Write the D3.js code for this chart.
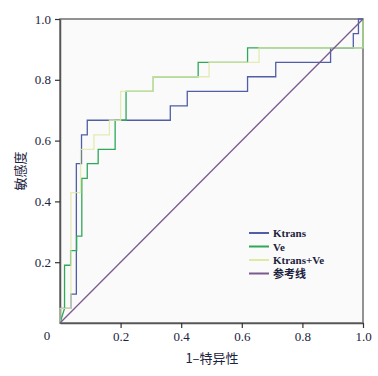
<!DOCTYPE html>
<html>
<head>
<meta charset="utf-8">
<script src="https://cdn.jsdelivr.net/npm/d3@7"></script>
<style>
  body { margin: 0; background: #fff; }
  svg { display: block; }
</style>
</head>
<body>
<svg id="roc" width="378" height="376"></svg>
<script>
// ROC curves, [1 - specificity, sensitivity]
var ktrans = [[0,0],[0,0.048],[0.036,0.048],[0.036,0.095],[0.054,0.095],[0.054,0.524],[0.071,0.524],[0.071,0.619],[0.09,0.619],[0.09,0.667],[0.364,0.667],[0.364,0.714],[0.42,0.714],[0.42,0.762],[0.619,0.762],[0.619,0.81],[0.712,0.81],[0.712,0.857],[0.893,0.857],[0.893,0.905],[0.968,0.905],[0.968,0.952],[0.985,0.952],[0.985,1],[1,1]];
var ve = [[0,0],[0.015,0.048],[0.015,0.19],[0.035,0.19],[0.035,0.238],[0.055,0.238],[0.055,0.286],[0.072,0.286],[0.072,0.476],[0.09,0.476],[0.09,0.524],[0.126,0.524],[0.126,0.571],[0.182,0.571],[0.182,0.667],[0.218,0.667],[0.218,0.762],[0.308,0.762],[0.308,0.81],[0.456,0.81],[0.456,0.857],[0.619,0.857],[0.619,0.905],[1,0.905],[1,1]];
var combined = [[0,0],[0,0.048],[0.036,0.048],[0.036,0.429],[0.068,0.429],[0.068,0.571],[0.112,0.571],[0.112,0.619],[0.163,0.619],[0.163,0.667],[0.2,0.667],[0.2,0.762],[0.308,0.762],[0.308,0.81],[0.492,0.81],[0.492,0.857],[0.657,0.857],[0.657,0.905],[1,0.905],[1,1]];
var refLine = [[0,0],[1,1]];

var seriesNames = ['Ktrans', 'Ve', 'Ktrans+Ve', '参考线'];
var seriesColors = ['#4f5ea6', '#2fa85a', '#dfe9a6', '#7a5a8e'];
var tickVals = [0.2, 0.4, 0.6, 0.8, 1.0];

var svg = d3.select('#roc');
var plotL = 60, plotR = 363, plotT = 19, plotB = 323;

var x = d3.scaleLinear().domain([0, 1]).range([plotL, plotR]);
var y = d3.scaleLinear().domain([0, 1]).range([plotB, plotT]);

// plot background + frame
svg.append('rect')
  .attr('x', plotL).attr('y', plotT)
  .attr('width', plotR - plotL).attr('height', plotB - plotT)
  .attr('fill', '#fafafa')
  .attr('stroke', '#6f6f6f')
  .attr('stroke-width', 1.5);

var serif = '"Liberation Serif", "DejaVu Serif", serif';

var yAxis = svg.append('g')
  .attr('transform', `translate(${plotL},0)`)
  .call(d3.axisLeft(y).tickValues(tickVals).tickSize(5).tickSizeOuter(0).tickFormat(d3.format('.1f')));
var xAxis = svg.append('g')
  .attr('transform', `translate(0,${plotB})`)
  .call(d3.axisBottom(x).tickValues(tickVals).tickSize(5).tickSizeOuter(0).tickFormat(d3.format('.1f')));

[yAxis, xAxis].forEach(function (g) {
  g.select('.domain').attr('stroke', '#555').attr('stroke-width', 1.5);
  g.selectAll('.tick line').attr('stroke', '#333').attr('stroke-width', 1.2);
  g.selectAll('.tick text')
    .attr('font-family', serif)
    .attr('font-size', 13)
    .attr('fill', '#1c2340');
});
yAxis.selectAll('.tick text').attr('x', -9);
xAxis.selectAll('.tick text').attr('y', 9);

svg.append('text')
  .attr('x', 47).attr('y', 340)
  .attr('text-anchor', 'middle')
  .attr('font-family', serif)
  .attr('font-size', 13)
  .attr('fill', '#1c2340')
  .text('0');

// curves
var line = d3.line().x(d => x(d[0])).y(d => y(d[1]));
var curves = [ktrans, ve, combined, refLine];
curves.forEach(function (c, i) {
  svg.append('path')
    .datum(c)
    .attr('d', line)
    .attr('fill', 'none')
    .attr('stroke', seriesColors[i])
    .attr('stroke-width', 1.3)
    .attr('stroke-opacity', i === 2 ? 0.85 : 1);
});

// legend
var legend = svg.append('g').attr('transform', 'translate(249,233)');
seriesNames.forEach(function (name, i) {
  var row = legend.append('g').attr('transform', `translate(0,${i * 13.5})`);
  row.append('line')
    .attr('x1', 0).attr('x2', 20)
    .attr('stroke', seriesColors[i])
    .attr('stroke-width', 2);
  row.append('text')
    .attr('x', 24).attr('y', 4)
    .attr('font-family', serif + ', "Noto Sans CJK SC"')
    .attr('font-size', 11)
    .attr('font-weight', 'bold')
    .attr('fill', '#1c2340')
    .text(name);
});

// axis titles
svg.append('text')
  .attr('x', 212).attr('y', 363)
  .attr('text-anchor', 'middle')
  .attr('font-family', '"Noto Sans CJK SC", sans-serif')
  .attr('font-size', 13)
  .attr('fill', '#1c2340')
  .text('1–特异性');

svg.append('text')
  .attr('transform', 'translate(25,171) rotate(-90)')
  .attr('text-anchor', 'middle')
  .attr('font-family', '"Noto Sans CJK SC", sans-serif')
  .attr('font-size', 13)
  .attr('fill', '#1c2340')
  .text('敏感度');
</script>
</body>
</html>
